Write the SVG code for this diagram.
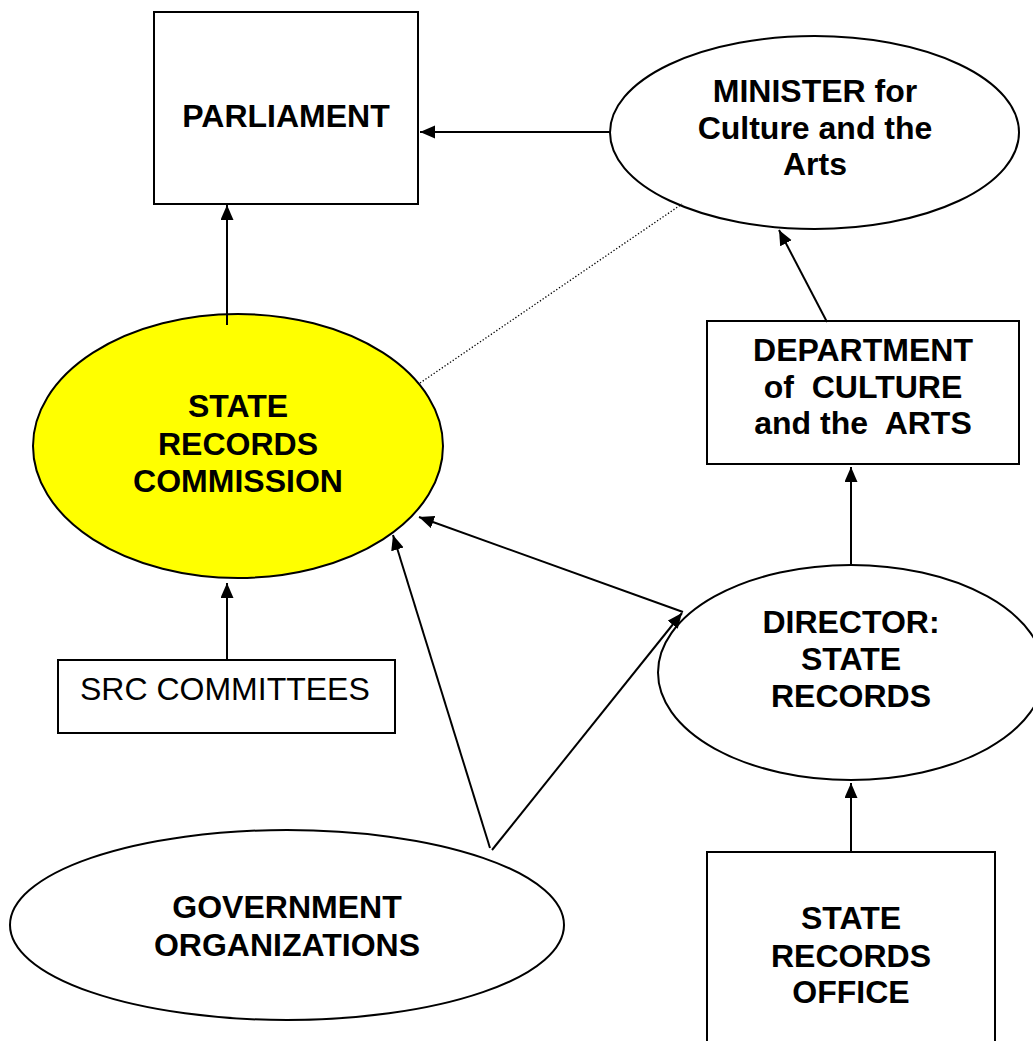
<svg xmlns="http://www.w3.org/2000/svg" width="1033" height="1041" viewBox="0 0 1033 1041">
<style>
.box{fill:#fff;stroke:#000;stroke-width:2}
.ell{fill:#fff;stroke:#000;stroke-width:2}
.yel{fill:#ffff00;stroke:#000;stroke-width:2}
.t{font-family:"Liberation Sans",Arial,sans-serif;font-size:32px;font-weight:bold;text-anchor:middle;fill:#000;white-space:pre}
.r{font-family:"Liberation Sans",Arial,sans-serif;font-size:32px;fill:#000}
.c{stroke:#000;stroke-width:2;fill:none;marker-end:url(#ah)}
.d{stroke:#000;stroke-width:1.3;fill:none;stroke-dasharray:1.3 2}
</style>
<defs>
<marker id="ah" markerUnits="userSpaceOnUse" markerWidth="16" markerHeight="14" refX="15" refY="6.5" orient="auto">
<path d="M0,0 L15,6.5 L0,13 z" fill="#000"/>
</marker>
</defs>
<rect width="1033" height="1041" fill="#fff"/>
<g id="parliament">
<rect class="box" x="154" y="12" width="264" height="192"/>
<text class="t" x="286" y="127">PARLIAMENT</text>
</g>
<g id="minister">
<ellipse class="ell" cx="814.5" cy="132.5" rx="204.5" ry="96.5"/>
<text class="t" x="815" y="102">MINISTER for</text>
<text class="t" x="815" y="139">Culture and the</text>
<text class="t" x="815" y="175">Arts</text>
</g>
<g id="department">
<rect class="box" x="707" y="321" width="312" height="143"/>
<text class="t" x="863" y="361">DEPARTMENT</text>
<text class="t" x="863" y="398">of  CULTURE</text>
<text class="t" x="863" y="434">and the  ARTS</text>
</g>
<g id="src">
<ellipse class="yel" cx="238" cy="446" rx="205" ry="132"/>
<text class="t" x="238" y="417">STATE</text>
<text class="t" x="238" y="455">RECORDS</text>
<text class="t" x="238" y="492">COMMISSION</text>
</g>
<g id="committees">
<rect class="box" x="58" y="660" width="337" height="73"/>
<text class="r" x="80" y="700">SRC COMMITTEES</text>
</g>
<g id="director">
<ellipse class="ell" cx="851" cy="672.5" rx="193" ry="107.5"/>
<text class="t" x="851" y="633">DIRECTOR:</text>
<text class="t" x="851" y="670">STATE</text>
<text class="t" x="851" y="707">RECORDS</text>
</g>
<g id="government">
<ellipse class="ell" cx="287" cy="925" rx="277" ry="95"/>
<text class="t" x="287" y="918">GOVERNMENT</text>
<text class="t" x="287" y="956">ORGANIZATIONS</text>
</g>
<g id="office">
<rect class="box" x="707" y="852" width="288" height="200"/>
<text class="t" x="851" y="929">STATE</text>
<text class="t" x="851" y="967">RECORDS</text>
<text class="t" x="851" y="1003">OFFICE</text>
</g>
<g id="connectors">
<line class="c" x1="610" y1="132" x2="420" y2="132"/>
<line class="c" x1="227" y1="325" x2="227" y2="205"/>
<line class="c" x1="827" y1="322" x2="779" y2="230"/>
<line class="c" x1="227" y1="660" x2="227" y2="583"/>
<line class="c" x1="851" y1="565" x2="851" y2="467"/>
<line class="c" x1="851" y1="852" x2="851" y2="783"/>
<line class="c" x1="683" y1="612" x2="419" y2="517"/>
<line class="c" x1="490" y1="848" x2="393" y2="535"/>
<line class="c" x1="492" y1="850" x2="682" y2="613"/>
<line class="d" x1="420" y1="383" x2="682" y2="204"/>
</g>
</svg>
